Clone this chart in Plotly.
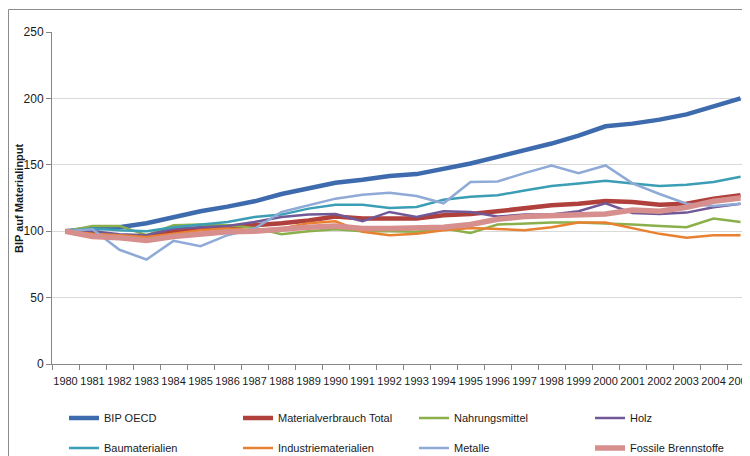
import plotly.graph_objects as go

years = [str(y) for y in range(1980, 2006)]

bip_oecd = [100, 102, 103, 106, 110.5, 115, 118.5, 122.5, 128, 132.5, 136.5, 138.7, 141.5,
            143, 147, 151, 156, 161, 166, 172, 179, 181, 184, 188, 194, 200]
materialverbrauch = [100, 97.7, 96, 96, 100, 102, 103, 104.5, 106, 108, 111, 109.5, 109.5,
                     109.5, 112, 113, 115, 117.5, 119.5, 120.7, 122.7, 122, 120, 120.7, 124.5, 127]
nahrungsmittel = [100, 104, 104, 97, 104.5, 105, 104.5, 102.5, 97.7, 100, 101.5, 100, 100,
                  99.5, 102, 98.7, 105, 105.7, 106.5, 106.5, 106, 105, 104, 103, 109.5, 107]
holz = [100, 100, 97.7, 97, 102, 103, 104, 107, 110.7, 112.5, 113, 107.5, 114.5,
        110.7, 115, 114.5, 111, 112.5, 112.5, 115, 121, 113.7, 113, 114, 118, 120.7]
baumaterialien = [100, 102, 100.7, 100, 103, 105, 107, 110.7, 112.5, 117, 120, 120, 117.5,
                  118.2, 123.7, 126, 127, 130.7, 134, 136, 138, 136, 134, 135, 137, 141]
industriematerialien = [100, 98, 97, 95.7, 98, 100.7, 102, 100.7, 102, 106, 107.5, 99.5, 97,
                        98, 100.7, 102.5, 101.7, 100.7, 103, 106.5, 106.5, 102, 98, 95, 97, 97]
metalle = [100, 101.5, 86, 78.7, 92.7, 88.7, 97, 102, 114.5, 119.5, 124.5, 127.5, 129,
           126.5, 121, 137, 137.5, 143.7, 149.5, 143.7, 149.5, 136, 128, 120.7, 119, 120.7]
fossile = [100, 96, 95, 93, 96, 97.7, 99.5, 100, 102, 103, 104, 102, 102,
           102, 103, 105, 109, 111, 112, 112, 113, 116, 115, 118, 122.5, 125]

series_names = ["BIP OECD", "Materialverbrauch Total", "Nahrungsmittel", "Holz",
                "Baumaterialien", "Industriematerialien", "Metalle", "Fossile Brennstoffe"]
series_values = [bip_oecd, materialverbrauch, nahrungsmittel, holz,
                 baumaterialien, industriematerialien, metalle, fossile]
colors = ["#3D6BAD", "#AF403C", "#8BAF4B", "#715896",
          "#3B9EB5", "#E88232", "#8FAAD6", "#D68F8D"]
widths = [4.5, 4.5, 2.5, 2.5, 2.5, 2.5, 2.5, 5.5]

y_title = "BIP auf Materialinput"

# the page body has an 8px margin, so the figure is 8px smaller than the window
W, H = 742, 448
ml, mr, mt, mb = 44, 0, 24, 92
pw, ph = W - ml - mr, H - mt - mb

def px_x(x):
    return (x - ml) / pw

def px_y(y):
    return (H - mb - y) / ph

font = "Liberation Sans, Arial, sans-serif"

# legend layout: 4 columns x 2 rows (figure pixel positions: legend left / row centre)
col_px = [56, 230, 406, 582]
row_px = [410, 440]

fig = go.Figure()
legends = {}
for i, (name, vals) in enumerate(zip(series_names, series_values)):
    lid = "legend" if i == 0 else f"legend{i + 1}"
    fig.add_trace(go.Scatter(
        x=years, y=vals, name=name, mode="lines",
        line=dict(color=colors[i], width=widths[i]),
        legend=lid,
    ))
    legends[lid] = dict(
        orientation="v", xanchor="left", yanchor="middle",
        x=px_x(col_px[i % 4]), y=px_y(row_px[i // 4]),
        itemwidth=30,
        font=dict(family=font, size=11, color="#1a1a1a"),
        bgcolor="rgba(0,0,0,0)",
    )

fig.update_layout(
    width=W, height=H,
    margin=dict(l=ml, r=mr, t=mt, b=mb, autoexpand=False),
    paper_bgcolor="white", plot_bgcolor="white",
    font=dict(family=font, color="#1a1a1a"),
    showlegend=True,
    xaxis=dict(type="category", range=[-0.5, 25.35], tickson="boundaries",
               ticks="outside", ticklen=5, tickcolor="#868686",
               showline=True, linecolor="#868686", linewidth=1,
               showgrid=False, zeroline=False, automargin=False,
               ticklabelstandoff=7,
               tickfont=dict(family=font, size=11, color="#1a1a1a"),
               tickangle=0),
    yaxis=dict(range=[0, 250], dtick=50, ticks="outside", ticklen=5,
               tickcolor="#868686", showline=True, linecolor="#868686",
               linewidth=1, showgrid=True, gridcolor="#D9D9D9", gridwidth=1,
               zeroline=False, automargin=False,
               tickfont=dict(family=font, size=12, color="#1a1a1a")),
    annotations=[dict(text="<b>" + y_title + "</b>", xref="paper", yref="paper",
                      x=px_x(11), y=0.5, xanchor="center", yanchor="middle",
                      textangle=-90, showarrow=False,
                      font=dict(family=font, size=11, color="#1a1a1a"))],
    shapes=[dict(type="rect", xref="paper", yref="paper",
                 x0=px_x(0.5), x1=1.2, y0=-1.0, y1=px_y(1.5),
                 line=dict(color="#8C8C8C", width=1), fillcolor="rgba(0,0,0,0)",
                 layer="below")],
    **legends,
)

fig.write_html("out.html")
